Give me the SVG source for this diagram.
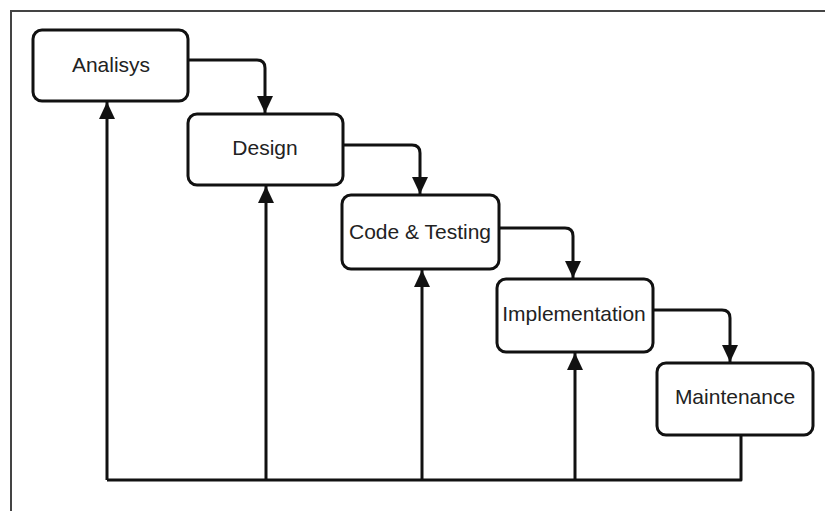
<svg xmlns="http://www.w3.org/2000/svg" width="825" height="511" viewBox="0 0 825 511">
<style>
.box{fill:#fff;stroke:#111;stroke-width:3}
.lbl{font-family:"Liberation Sans",Arial,sans-serif;font-size:21px;fill:#222;text-anchor:middle}
.con{fill:none;stroke:#111;stroke-width:3;stroke-linejoin:round}
</style>
<defs>
<marker id="ah" markerUnits="userSpaceOnUse" markerWidth="17" markerHeight="18" viewBox="0 0 17 18" refX="17" refY="9" orient="auto">
<path d="M0,1 L17,9 L0,17 Z" fill="#111"/>
</marker>
</defs>
<rect width="825" height="511" fill="#fff"/>
<path d="M11,511 V11 H825" fill="none" stroke="#444" stroke-width="2"/>
<g id="connectors">
<path class="con" d="M188,60 H257 Q265,60 265,68 V113" marker-end="url(#ah)"/>
<path class="con" d="M343,145 H412 Q420,145 420,153 V194" marker-end="url(#ah)"/>
<path class="con" d="M499,228 H565 Q573,228 573,236 V278" marker-end="url(#ah)"/>
<path class="con" d="M653,310 H722 Q730,310 730,318 V362" marker-end="url(#ah)"/>
<path class="con" d="M741,436 V480 H107"/>
<path class="con" d="M107,480 V102" marker-end="url(#ah)"/>
<path class="con" d="M266,480 V186" marker-end="url(#ah)"/>
<path class="con" d="M422,480 V270" marker-end="url(#ah)"/>
<path class="con" d="M575,480 V353" marker-end="url(#ah)"/>
</g>
<g id="analisys"><rect class="box" x="33" y="30" width="155" height="71" rx="9"/><text class="lbl" x="111" y="72">Analisys</text></g>
<g id="design"><rect class="box" x="188" y="114" width="155" height="71" rx="9"/><text class="lbl" x="265" y="155">Design</text></g>
<g id="code"><rect class="box" x="342" y="195" width="157" height="74" rx="9"/><text class="lbl" x="420" y="239">Code &amp; Testing</text></g>
<g id="implementation"><rect class="box" x="497" y="279" width="156" height="73" rx="9"/><text class="lbl" x="574" y="321">Implementation</text></g>
<g id="maintenance"><rect class="box" x="657" y="363" width="156" height="72" rx="9"/><text class="lbl" x="735" y="404">Maintenance</text></g>
</svg>
